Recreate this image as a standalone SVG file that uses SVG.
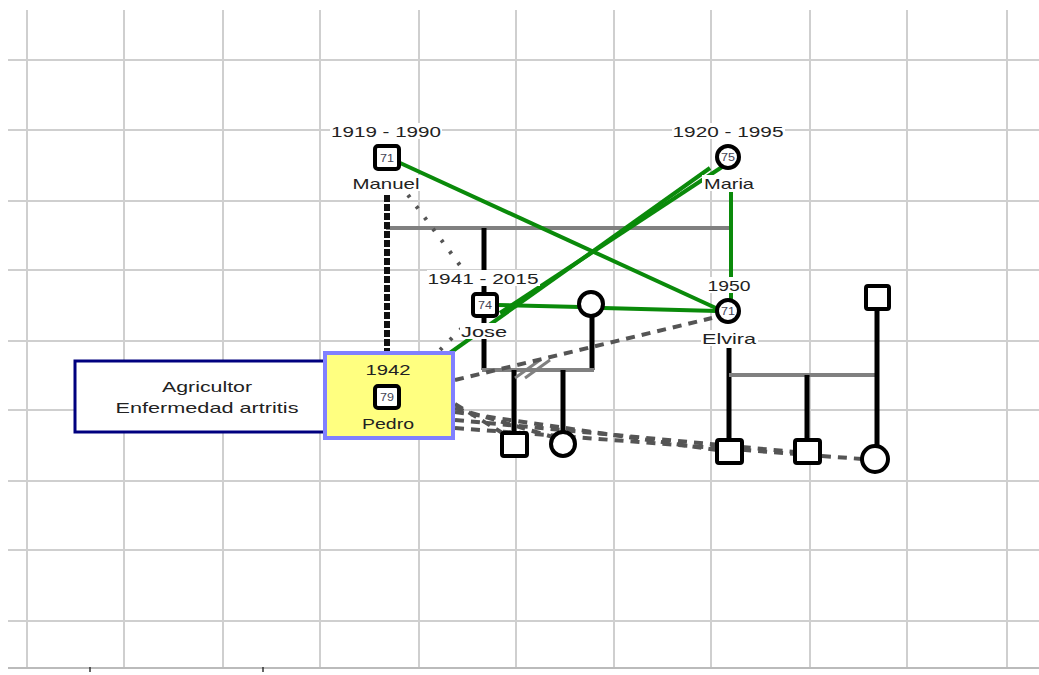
<svg xmlns="http://www.w3.org/2000/svg" width="1039" height="675" viewBox="0 0 1039 675">
<style>
.grid{stroke:#cfcfcf;stroke-width:2}
.t{font-family:"Liberation Sans",Arial,sans-serif;font-size:15px;fill:#222;text-anchor:middle}
.n{font-family:"Liberation Sans",Arial,sans-serif;font-size:11px;fill:#445;text-anchor:middle}
.sq{fill:#fff;stroke:#000;stroke-width:4}
.ci{fill:#fff;stroke:#000;stroke-width:4}
.bk{stroke:#000;stroke-width:5;fill:none}
.gy{stroke:#808080;stroke-width:4;fill:none}
.gr{stroke:#0a8a0a;stroke-width:4;fill:none}
.ds{stroke:#555;stroke-width:4;fill:none;stroke-dasharray:9,7}
.dt{stroke:#555;stroke-width:4;fill:none;stroke-dasharray:3,11}
.bg{fill:#fff}
</style>
<rect width="1039" height="675" fill="#fff"/>
<g id="grid">
<line class="grid" x1="27" y1="10" x2="27" y2="668"/>
<line class="grid" x1="124" y1="10" x2="124" y2="668"/>
<line class="grid" x1="223" y1="10" x2="223" y2="668"/>
<line class="grid" x1="320" y1="10" x2="320" y2="668"/>
<line class="grid" x1="419" y1="10" x2="419" y2="668"/>
<line class="grid" x1="516" y1="10" x2="516" y2="668"/>
<line class="grid" x1="614" y1="10" x2="614" y2="668"/>
<line class="grid" x1="711" y1="10" x2="711" y2="668"/>
<line class="grid" x1="810" y1="10" x2="810" y2="668"/>
<line class="grid" x1="907" y1="10" x2="907" y2="668"/>
<line class="grid" x1="1007" y1="10" x2="1007" y2="668"/>
<line class="grid" x1="8" y1="60" x2="1039" y2="60"/>
<line class="grid" x1="8" y1="130" x2="1039" y2="130"/>
<line class="grid" x1="8" y1="201" x2="1039" y2="201"/>
<line class="grid" x1="8" y1="270" x2="1039" y2="270"/>
<line class="grid" x1="8" y1="341" x2="1039" y2="341"/>
<line class="grid" x1="8" y1="410" x2="1039" y2="410"/>
<line class="grid" x1="8" y1="481" x2="1039" y2="481"/>
<line class="grid" x1="8" y1="550" x2="1039" y2="550"/>
<line class="grid" x1="8" y1="621" x2="1039" y2="621"/>
<line x1="8" y1="668" x2="1039" y2="668" stroke="#bbb" stroke-width="2"/>
<line x1="90" y1="667" x2="90" y2="672" stroke="#333" stroke-width="1.5"/>
<line x1="263" y1="667" x2="263" y2="672" stroke="#333" stroke-width="1.5"/>
</g>
<g id="connectors">
<line class="gy" x1="386" y1="228" x2="731" y2="228"/>
<line x1="387" y1="195" x2="387" y2="353" stroke="#111" stroke-width="6" stroke-dasharray="7,2"/>
<line class="bk" x1="484" y1="228" x2="484" y2="293"/>
<line class="bk" x1="484" y1="317" x2="484" y2="370"/>
<line class="bk" x1="592" y1="316" x2="592" y2="370"/>
<line class="gy" x1="482" y1="370" x2="594" y2="370"/>
<line class="bk" x1="514" y1="370" x2="514" y2="433"/>
<line class="bk" x1="563" y1="370" x2="563" y2="432"/>
<line x1="515" y1="378" x2="540" y2="360" stroke="#808080" stroke-width="3"/>
<line x1="525" y1="378" x2="550" y2="360" stroke="#808080" stroke-width="3"/>
<line class="bk" x1="729" y1="348" x2="729" y2="440"/>
<line class="gy" x1="729" y1="375" x2="878" y2="375"/>
<line class="bk" x1="807" y1="375" x2="807" y2="440"/>
<line class="bk" x1="877" y1="309" x2="877" y2="446"/>
<line class="gr" x1="398" y1="162" x2="718" y2="309"/>
<line class="gr" x1="722" y1="167" x2="500" y2="313"/>
<line class="gr" x1="710" y1="168" x2="447" y2="355"/>
<line class="gr" x1="731" y1="192" x2="731" y2="300"/>
<line class="gr" x1="497" y1="305" x2="580" y2="307"/>
<line class="gr" x1="603" y1="308" x2="717" y2="311"/>
<line class="dt" x1="408" y1="195" x2="462" y2="268"/>
<line class="dt" x1="462" y1="328" x2="438" y2="352"/>
<line class="ds" x1="455" y1="380" x2="712" y2="318"/>
<line class="ds" x1="455" y1="404" x2="514" y2="440"/>
<line class="ds" x1="455" y1="408" x2="563" y2="440"/>
<line class="ds" x1="455" y1="412" x2="717" y2="450"/>
<line class="ds" x1="455" y1="420" x2="795" y2="452"/>
<line class="ds" x1="455" y1="428" x2="862" y2="459"/>
</g>
<g id="manuel">
<rect class="bg" x="330" y="123" width="112" height="16"/>
<text class="t" x="386" y="137" textLength="110" lengthAdjust="spacingAndGlyphs">1919 - 1990</text>
<rect class="sq" x="375" y="146" width="24" height="23" rx="3"/>
<text class="n" x="387" y="162" textLength="14" lengthAdjust="spacingAndGlyphs">71</text>
<rect class="bg" x="351" y="175" width="70" height="16"/>
<text class="t" x="386" y="189" textLength="67" lengthAdjust="spacingAndGlyphs">Manuel</text>
</g>
<g id="maria">
<rect class="bg" x="672" y="123" width="113" height="16"/>
<text class="t" x="728" y="137" textLength="111" lengthAdjust="spacingAndGlyphs">1920 - 1995</text>
<circle class="ci" cx="728" cy="157" r="11"/>
<text class="n" x="728" y="161" textLength="14" lengthAdjust="spacingAndGlyphs">75</text>
<rect class="bg" x="702" y="175" width="53" height="16"/>
<text class="t" x="729" y="189" textLength="50" lengthAdjust="spacingAndGlyphs">Maria</text>
</g>
<g id="jose">
<rect class="bg" x="427" y="270" width="113" height="16"/>
<text class="t" x="483" y="284" textLength="111" lengthAdjust="spacingAndGlyphs">1941 - 2015</text>
<rect class="sq" x="473" y="294" width="24" height="22" rx="3"/>
<text class="n" x="485" y="309" textLength="14" lengthAdjust="spacingAndGlyphs">74</text>
<rect class="bg" x="460" y="323" width="48" height="16"/>
<text class="t" x="484" y="337" textLength="46" lengthAdjust="spacingAndGlyphs">Jose</text>
</g>
<g id="wife-jose">
<circle class="ci" cx="591" cy="304" r="12"/>
</g>
<g id="elvira">
<rect class="bg" x="707" y="277" width="45" height="16"/>
<text class="t" x="729" y="291" textLength="43" lengthAdjust="spacingAndGlyphs">1950</text>
<circle class="ci" cx="728" cy="311" r="11"/>
<text class="n" x="728" y="315" textLength="14" lengthAdjust="spacingAndGlyphs">71</text>
<rect class="bg" x="701" y="330" width="57" height="16"/>
<text class="t" x="729" y="344" textLength="54" lengthAdjust="spacingAndGlyphs">Elvira</text>
</g>
<g id="husband-elvira">
<rect class="sq" x="866" y="286" width="23" height="23" rx="2"/>
</g>
<g id="note">
<rect x="75" y="361" width="250" height="71" fill="#fff" stroke="#00007f" stroke-width="3"/>
<text class="t" x="207" y="392" textLength="90" lengthAdjust="spacingAndGlyphs">Agricultor</text>
<text class="t" x="207" y="413" textLength="183" lengthAdjust="spacingAndGlyphs">Enfermedad artritis</text>
</g>
<g id="pedro">
<rect x="325" y="353" width="128" height="85" fill="#ffff80" stroke="#8080ff" stroke-width="4"/>
<text class="t" x="388" y="375" textLength="45" lengthAdjust="spacingAndGlyphs">1942</text>
<rect class="sq" x="375" y="386" width="24" height="22" rx="3"/>
<text class="n" x="387" y="401" textLength="14" lengthAdjust="spacingAndGlyphs">79</text>
<text class="t" x="388" y="429" textLength="52" lengthAdjust="spacingAndGlyphs">Pedro</text>
</g>
<g id="child1"><rect class="sq" x="502" y="433" width="25" height="23" rx="2"/></g>
<g id="child2"><circle class="ci" cx="563" cy="444" r="12"/></g>
<g id="child3"><rect class="sq" x="717" y="440" width="25" height="23" rx="2"/></g>
<g id="child4"><rect class="sq" x="795" y="440" width="25" height="23" rx="2"/></g>
<g id="child5"><circle class="ci" cx="875" cy="459" r="13"/></g>
</svg>
